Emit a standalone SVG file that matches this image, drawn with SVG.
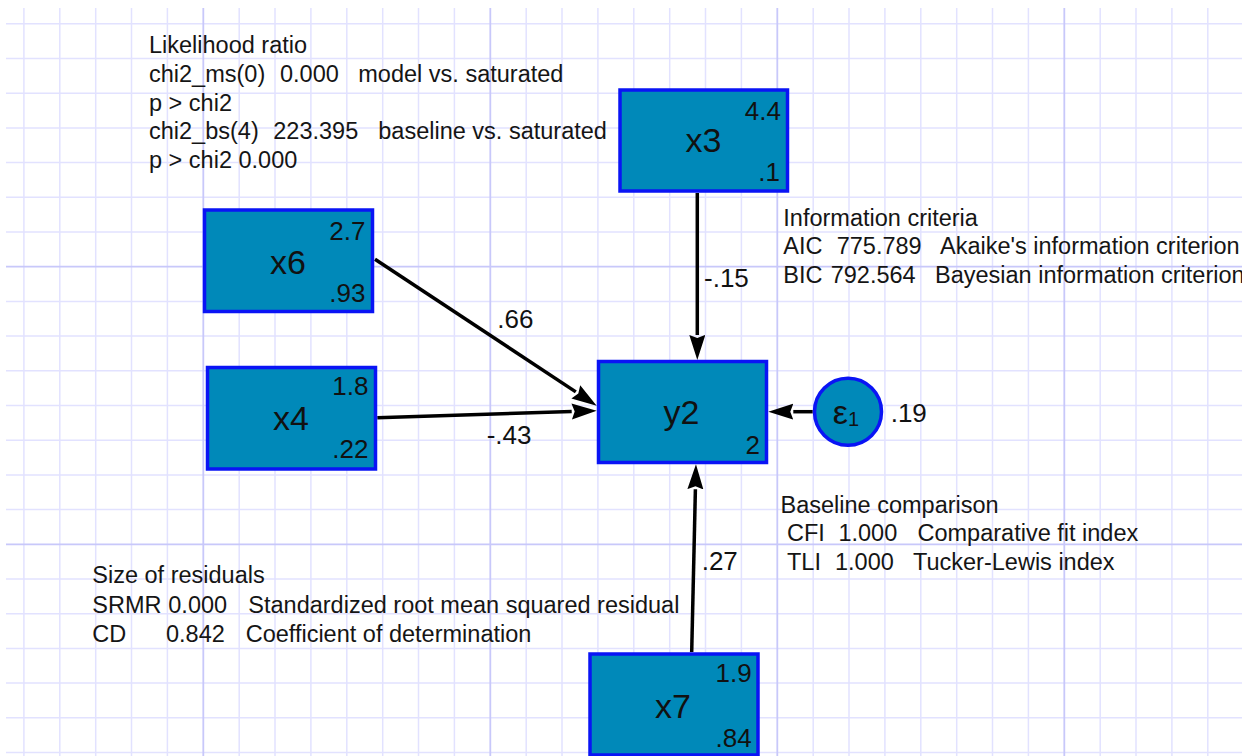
<svg xmlns="http://www.w3.org/2000/svg" width="1242" height="756" viewBox="0 0 1242 756">
<style>
.bg{fill:#ffffff}
.minor{stroke:#e2e2ff;stroke-width:1.5;fill:none}
.major{stroke:#c8c8fa;stroke-width:1.8;fill:none}
.box{fill:#0089b9;stroke:#0a14f5;stroke-width:3.5}
.edge{stroke:#000;stroke-width:3.5;fill:none;marker-end:url(#ah)}
.note{font-family:"Liberation Sans",Arial,sans-serif;font-size:23.5px;fill:#151515}
.lbl{font-family:"Liberation Sans",Arial,sans-serif;font-size:26px;fill:#111}
.num{font-family:"Liberation Sans",Arial,sans-serif;font-size:26px;fill:#111;text-anchor:end}
.name{font-family:"Liberation Sans",Arial,sans-serif;font-size:34px;fill:#111;text-anchor:middle}
</style>
<defs>
<marker id="ah" markerUnits="userSpaceOnUse" markerWidth="28" markerHeight="18" refX="0" refY="8" orient="auto">
<path d="M0,0 L25,8 L0,16 L3,8 z" fill="#000"/>
</marker>
</defs>
<rect class="bg" x="0" y="0" width="1242" height="756"/>
<g id="grid">
<path class="minor" d="M23.9,8V756M59.8,8V756M95.7,8V756M131.5,8V756M167.4,8V756M239.2,8V756M275,8V756M310.9,8V756M346.8,8V756M382.7,8V756M418.5,8V756M454.4,8V756M526.2,8V756M562,8V756M597.9,8V756M633.8,8V756M669.7,8V756M705.5,8V756M741.4,8V756M813.2,8V756M849,8V756M884.9,8V756M920.8,8V756M956.7,8V756M992.5,8V756M1028.4,8V756M1100.2,8V756M1136,8V756M1171.9,8V756M1207.8,8V756
M6,23.8H1242M6,58.5H1242M6,93.2H1242M6,127.9H1242M6,162.6H1242M6,197.3H1242M6,232H1242M6,301.4H1242M6,336.1H1242M6,370.8H1242M6,405.5H1242M6,440.2H1242M6,474.9H1242M6,509.6H1242M6,579H1242M6,613.7H1242M6,648.4H1242M6,683.1H1242M6,717.8H1242M6,752.5H1242"/>
<path class="major" d="M203.3,8V756M490.3,8V756M777.3,8V756M1064.3,8V756M6,266.7H1242M6,544.3H1242"/>
</g>
<g id="annotations">
<text class="note" x="149" y="52.7">Likelihood ratio</text>
<text class="note" y="81.7"><tspan x="149">chi2_ms(0)</tspan><tspan x="280">0.000</tspan><tspan x="358.3">model vs. saturated</tspan></text>
<text class="note" x="149" y="110.5">p &gt; chi2</text>
<text class="note" y="139.3"><tspan x="149">chi2_bs(4)</tspan><tspan x="273.3">223.395</tspan><tspan x="378.3">baseline vs. saturated</tspan></text>
<text class="note" x="149" y="168.3">p &gt; chi2 0.000</text>
<text class="note" x="783.3" y="225.7">Information criteria</text>
<text class="note" y="254"><tspan x="783.3">AIC</tspan><tspan x="836.7">775.789</tspan><tspan x="940">Akaike's information criterion</tspan></text>
<text class="note" y="282.7"><tspan x="783.3">BIC</tspan><tspan x="830.7">792.564</tspan><tspan x="935">Bayesian information criterion</tspan></text>
<text class="note" x="780.5" y="512.7">Baseline comparison</text>
<text class="note" y="541"><tspan x="787">CFI</tspan><tspan x="838.4">1.000</tspan><tspan x="917.5">Comparative fit index</tspan></text>
<text class="note" y="570"><tspan x="787">TLI</tspan><tspan x="835">1.000</tspan><tspan x="913">Tucker-Lewis index</tspan></text>
<text class="note" x="92.3" y="583.3">Size of residuals</text>
<text class="note" y="612.7"><tspan x="92.3">SRMR</tspan><tspan x="168.3">0.000</tspan><tspan x="248.3">Standardized root mean squared residual</tspan></text>
<text class="note" y="641.7"><tspan x="92.3">CD</tspan><tspan x="166">0.842</tspan><tspan x="245.7">Coefficient of determination</tspan></text>
</g>
<g id="connectors">
<path class="edge" d="M697.3,193 L697.3,335"/>
<path class="edge" d="M375,259.3 L575.8,391.9"/>
<path class="edge" d="M377.3,417.7 L571.7,411.5"/>
<path class="edge" d="M691.7,652 L695.4,489.3"/>
<path class="edge" d="M812.7,411.7 L793.3,411.7"/>
<text class="lbl" x="704" y="286.7">-.15</text>
<text class="lbl" x="497.3" y="328.3">.66</text>
<text class="lbl" x="486.7" y="444">-.43</text>
<text class="lbl" x="701.7" y="569.5">.27</text>
<text class="lbl" x="890.7" y="421.7">.19</text>
</g>
<g id="node-x3">
<rect class="box" x="620" y="90" width="167.5" height="101"/>
<text class="name" x="703.5" y="152">x3</text>
<text class="num" x="781" y="120">4.4</text>
<text class="num" x="780" y="181">.1</text>
</g>
<g id="node-x6">
<rect class="box" x="204.5" y="210" width="168" height="101.5"/>
<text class="name" x="288" y="274">x6</text>
<text class="num" x="365.5" y="240">2.7</text>
<text class="num" x="365.5" y="301.7">.93</text>
</g>
<g id="node-x4">
<rect class="box" x="207.5" y="367.5" width="168" height="101.5"/>
<text class="name" x="291" y="429.5">x4</text>
<text class="num" x="368.5" y="395">1.8</text>
<text class="num" x="368.5" y="458.3">.22</text>
</g>
<g id="node-y2">
<rect class="box" x="598.5" y="361.5" width="168" height="101"/>
<text class="name" x="681.5" y="423.5">y2</text>
<text class="num" x="760" y="454">2</text>
</g>
<g id="node-e1">
<circle class="box" cx="848" cy="411.7" r="33.5"/>
<text class="name" x="846" y="424" style="font-size:34px">ε<tspan style="font-size:20px" dy="2">1</tspan></text>
</g>
<g id="node-x7">
<rect class="box" x="590" y="654" width="168" height="101"/>
<text class="name" x="673" y="718">x7</text>
<text class="num" x="751.7" y="681.7">1.9</text>
<text class="num" x="751.7" y="746.7">.84</text>
</g>
</svg>
